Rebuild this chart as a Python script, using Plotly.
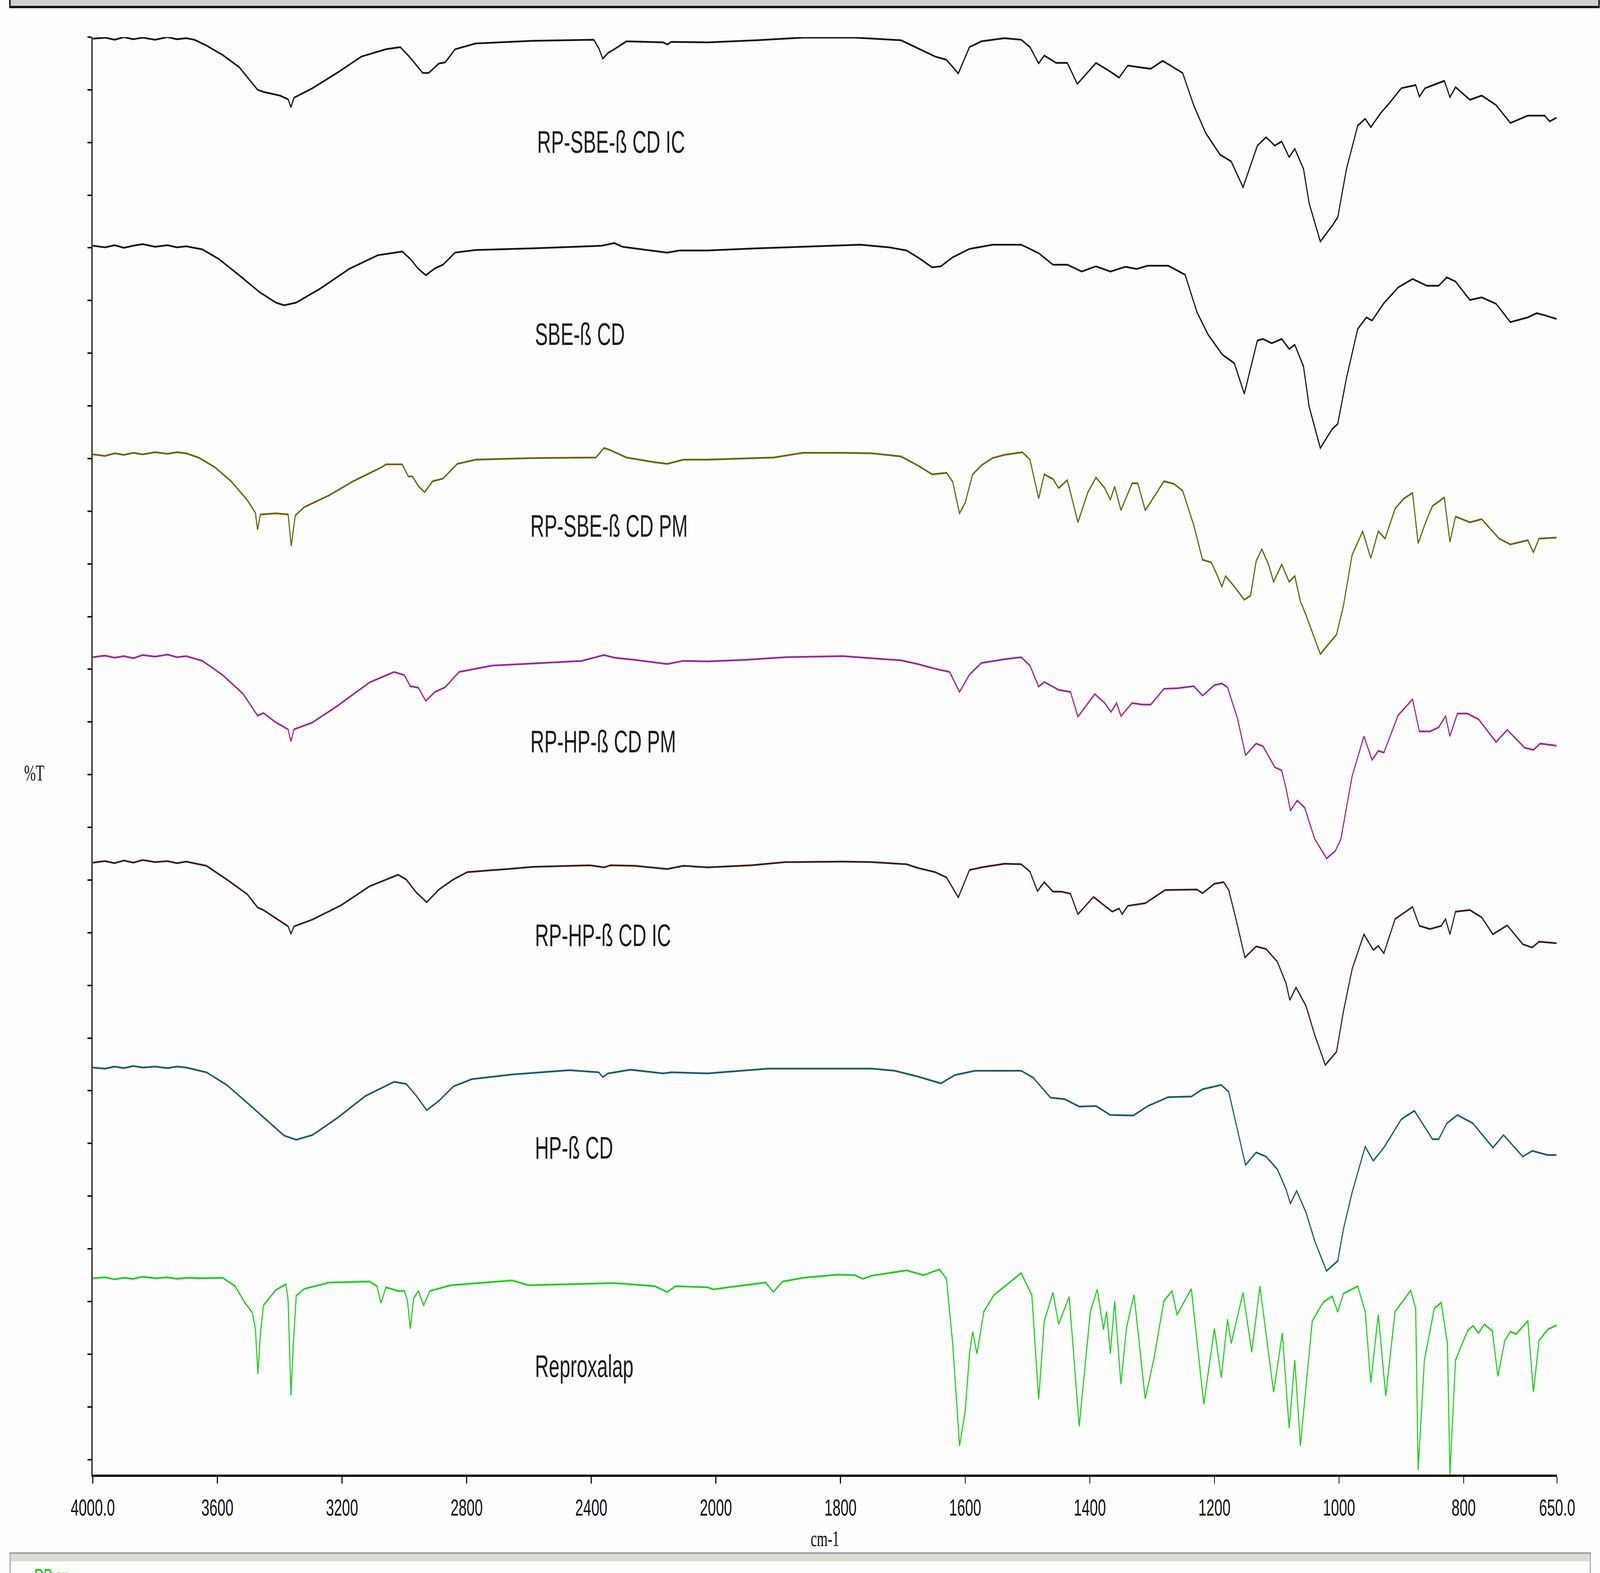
"""
FT-IR overlay: Reproxalap, HP-/SBE-beta-CD, physical mixtures (PM) and
inclusion complexes (IC), stacked %T traces on a split wavenumber axis.
"""

import plotly.graph_objects as go

# ── Data (wavenumber cm-1, offset %T in tick units) ───────────────────────────

WN_RP_SBE_IC = [4000, 3960, 3930, 3900, 3870, 3840, 3800, 3760, 3730, 3700, 3674, 3635, 3583, 3530, 3471,
                3452, 3399, 3373, 3364, 3354, 3295, 3216, 3138, 3059, 3013, 2981, 2941, 2922, 2889, 2869,
                2837, 2771, 2588, 2392, 2376, 2363, 2346, 2326, 2287, 2169, 2156, 2143, 2027, 1934, 1860,
                1777, 1703, 1676, 1648, 1630, 1611, 1593, 1574, 1537, 1510, 1496, 1482, 1473, 1454, 1436,
                1420, 1390, 1369, 1353, 1339, 1316, 1302, 1283, 1251, 1233, 1214, 1191, 1173, 1154, 1131,
                1117, 1103, 1092, 1080, 1071, 1057, 1048, 1030, 1011, 1002, 988, 970, 958, 949, 933, 919,
                900, 877, 871, 862, 831, 822, 813, 790, 771, 748, 725, 697, 670, 662, 651]
T_RP_SBE_IC = [26.97, 26.99, 26.95, 27.00, 26.96, 26.99, 26.95, 27.00, 26.96, 26.98, 26.95, 26.84, 26.66,
               26.43, 26.00, 25.96, 25.89, 25.82, 25.67, 25.85, 26.03, 26.32, 26.63, 26.77, 26.81, 26.61,
               26.32, 26.32, 26.50, 26.52, 26.77, 26.88, 26.93, 26.95, 26.79, 26.59, 26.70, 26.77, 26.92,
               26.90, 26.86, 26.91, 26.90, 26.94, 26.99, 26.99, 26.94, 26.79, 26.63, 26.57, 26.31, 26.81,
               26.92, 26.98, 26.95, 26.81, 26.50, 26.65, 26.51, 26.51, 26.11, 26.51, 26.36, 26.23, 26.46,
               26.42, 26.40, 26.55, 26.32, 25.70, 25.18, 24.77, 24.64, 24.15, 24.94, 25.10, 24.94, 25.02,
               24.72, 24.88, 24.50, 23.85, 23.12, 23.42, 23.58, 24.50, 25.32, 25.45, 25.29, 25.56, 25.75,
               26.03, 26.09, 25.87, 26.03, 26.17, 25.86, 26.05, 25.81, 25.89, 25.71, 25.37, 25.51, 25.51,
               25.40, 25.47]

WN_SBE = [4000, 3960, 3930, 3900, 3870, 3840, 3800, 3760, 3730, 3700, 3648, 3596, 3530, 3465, 3412, 3386,
          3347, 3269, 3177, 3085, 3007, 2981, 2955, 2931, 2902, 2876, 2837, 2771, 2588, 2366, 2326, 2300,
          2222, 2156, 2117, 2027, 1934, 1842, 1768, 1722, 1694, 1676, 1653, 1639, 1620, 1593, 1556, 1510,
          1482, 1459, 1436, 1413, 1390, 1367, 1343, 1325, 1307, 1274, 1247, 1228, 1210, 1187, 1168, 1152,
          1131, 1122, 1108, 1092, 1080, 1071, 1057, 1048, 1030, 1011, 1002, 988, 970, 956, 947, 928, 905,
          882, 859, 840, 827, 813, 790, 771, 748, 725, 697, 683, 670, 651]
T_SBE = [23.04, 23.01, 23.05, 23.00, 23.04, 23.07, 23.02, 23.05, 23.01, 23.03, 22.97, 22.79, 22.48, 22.16,
         21.96, 21.91, 21.96, 22.23, 22.60, 22.86, 22.93, 22.79, 22.60, 22.48, 22.61, 22.68, 22.91, 22.96,
         22.99, 23.04, 23.09, 23.02, 22.96, 22.91, 22.95, 22.95, 22.99, 23.03, 23.06, 23.01, 22.95, 22.82,
         22.63, 22.65, 22.82, 22.98, 23.06, 23.06, 22.90, 22.68, 22.68, 22.55, 22.65, 22.55, 22.64, 22.60,
         22.66, 22.66, 22.49, 21.78, 21.35, 20.97, 20.81, 20.23, 21.24, 21.27, 21.19, 21.27, 21.08, 21.16,
         20.75, 19.99, 19.20, 19.56, 19.66, 20.53, 21.46, 21.68, 21.62, 21.95, 22.25, 22.41, 22.28, 22.28,
         22.44, 22.36, 22.01, 22.06, 21.94, 21.59, 21.68, 21.76, 21.72, 21.65]

WN_RP_SBE_PM = [4000, 3960, 3930, 3900, 3870, 3840, 3800, 3760, 3730, 3700, 3661, 3609, 3556, 3504, 3478,
                3471, 3462, 3412, 3373, 3363, 3350, 3321, 3242, 3164, 3085, 3072, 3059, 3007, 2987, 2974,
                2955, 2935, 2909, 2876, 2830, 2771, 2588, 2385, 2359, 2339, 2287, 2196, 2156, 2104, 2027,
                1962, 1907, 1860, 1796, 1750, 1703, 1676, 1653, 1630, 1620, 1609, 1600, 1588, 1574, 1556,
                1537, 1508, 1496, 1482, 1473, 1459, 1450, 1436, 1419, 1403, 1390, 1376, 1367, 1360, 1350,
                1332, 1323, 1311, 1297, 1281, 1265, 1251, 1233, 1219, 1205, 1196, 1188, 1182, 1168, 1152,
                1142, 1133, 1124, 1113, 1105, 1092, 1080, 1071, 1062, 1053, 1030, 1016, 1004, 993, 979, 962,
                949, 937, 926, 910, 896, 882, 873, 861, 850, 831, 822, 813, 790, 771, 743, 725, 697, 688,
                679, 651]
T_RP_SBE_PM = [19.08, 19.05, 19.10, 19.07, 19.11, 19.08, 19.12, 19.09, 19.12, 19.10, 19.02, 18.84, 18.57,
               18.21, 17.97, 17.65, 17.94, 17.96, 17.94, 17.34, 17.92, 18.08, 18.30, 18.57, 18.80, 18.84,
               18.89, 18.89, 18.66, 18.66, 18.48, 18.36, 18.57, 18.62, 18.90, 18.98, 19.01, 19.02, 19.20,
               19.16, 19.02, 18.93, 18.90, 18.98, 18.98, 19.00, 19.02, 19.11, 19.11, 19.10, 19.04, 18.87,
               18.70, 18.73, 18.56, 17.96, 18.16, 18.70, 18.87, 19.01, 19.07, 19.12, 18.98, 18.24, 18.70,
               18.61, 18.44, 18.59, 17.79, 18.36, 18.64, 18.44, 18.22, 18.47, 18.02, 18.53, 18.53, 18.02,
               18.27, 18.57, 18.52, 18.39, 17.73, 17.08, 17.03, 16.80, 16.57, 16.77, 16.57, 16.32, 16.40,
               17.05, 17.28, 16.99, 16.66, 16.99, 16.66, 16.77, 16.29, 16.03, 15.29, 15.49, 15.66, 16.20,
               17.17, 17.62, 17.11, 17.62, 17.48, 18.05, 18.24, 18.35, 17.39, 17.79, 18.10, 18.26, 17.42,
               17.90, 17.79, 17.85, 17.48, 17.37, 17.45, 17.22, 17.48, 17.50]

WN_RP_HP_PM = [4000, 3960, 3930, 3900, 3870, 3840, 3800, 3760, 3730, 3700, 3648, 3583, 3517, 3471, 3452,
               3412, 3373, 3364, 3354, 3295, 3216, 3112, 3033, 3000, 2981, 2955, 2931, 2902, 2869, 2824,
               2719, 2588, 2431, 2359, 2326, 2261, 2156, 2104, 2027, 1953, 1888, 1796, 1750, 1703, 1676,
               1648, 1625, 1609, 1593, 1574, 1537, 1510, 1496, 1482, 1473, 1450, 1431, 1419, 1392, 1376,
               1366, 1357, 1350, 1332, 1316, 1302, 1281, 1260, 1233, 1219, 1200, 1188, 1179, 1163, 1150,
               1133, 1122, 1103, 1092, 1085, 1078, 1067, 1055, 1039, 1020, 1006, 997, 979, 960, 947, 937,
               928, 905, 882, 871, 854, 840, 829, 822, 810, 794, 776, 748, 730, 702, 688, 677, 651]
T_RP_HP_PM = [15.23, 15.26, 15.22, 15.25, 15.21, 15.27, 15.24, 15.28, 15.23, 15.25, 15.16, 14.89, 14.53,
              14.12, 14.17, 13.99, 13.86, 13.63, 13.86, 13.99, 14.30, 14.75, 14.95, 14.89, 14.68, 14.65,
              14.40, 14.57, 14.66, 14.95, 15.07, 15.11, 15.16, 15.27, 15.22, 15.18, 15.10, 15.16, 15.15,
              15.18, 15.23, 15.25, 15.21, 15.17, 15.10, 15.01, 14.95, 14.57, 14.90, 15.12, 15.19, 15.23,
              15.07, 14.67, 14.76, 14.61, 14.57, 14.10, 14.53, 14.36, 14.19, 14.36, 14.11, 14.36, 14.33,
              14.33, 14.63, 14.64, 14.68, 14.50, 14.70, 14.73, 14.66, 14.07, 13.37, 13.59, 13.54, 13.14,
              13.08, 12.74, 12.32, 12.51, 12.37, 11.78, 11.41, 11.55, 11.78, 12.97, 13.73, 13.28, 13.45,
              13.42, 14.13, 14.43, 13.82, 13.82, 13.90, 14.11, 13.73, 14.16, 14.16, 14.05, 13.62, 13.85,
              13.51, 13.47, 13.59, 13.55]

WN_RP_HP_IC = [4000, 3960, 3930, 3900, 3870, 3840, 3800, 3760, 3730, 3700, 3635, 3570, 3504, 3471, 3452,
               3399, 3373, 3364, 3354, 3295, 3203, 3112, 3020, 2994, 2961, 2928, 2889, 2843, 2798, 2667,
               2588, 2405, 2359, 2339, 2261, 2156, 2104, 2027, 1944, 1888, 1796, 1750, 1694, 1676, 1648,
               1630, 1611, 1593, 1574, 1537, 1510, 1496, 1484, 1473, 1459, 1445, 1431, 1419, 1394, 1376,
               1364, 1353, 1348, 1339, 1311, 1279, 1228, 1219, 1200, 1185, 1177, 1166, 1151, 1133, 1117,
               1099, 1085, 1079, 1069, 1053, 1039, 1022, 1004, 993, 979, 960, 945, 937, 928, 910, 882, 871,
               854, 836, 829, 822, 813, 790, 771, 753, 730, 705, 690, 679, 651]
T_RP_HP_IC = [11.33, 11.36, 11.32, 11.37, 11.33, 11.38, 11.34, 11.36, 11.32, 11.35, 11.27, 11.01, 10.73,
              10.48, 10.43, 10.22, 10.12, 9.98, 10.12, 10.25, 10.52, 10.88, 11.10, 11.01, 10.76, 10.58,
              10.82, 11.01, 11.15, 11.21, 11.25, 11.28, 11.24, 11.28, 11.27, 11.21, 11.27, 11.24, 11.28,
              11.34, 11.35, 11.34, 11.30, 11.23, 11.15, 11.05, 10.67, 11.19, 11.24, 11.31, 11.30, 11.16,
              10.79, 10.96, 10.78, 10.78, 10.74, 10.35, 10.68, 10.51, 10.40, 10.46, 10.35, 10.51, 10.56,
              10.81, 10.82, 10.75, 10.93, 10.96, 10.81, 10.29, 9.53, 9.74, 9.69, 9.45, 9.04, 8.72, 8.96,
              8.61, 8.06, 7.49, 7.74, 8.50, 9.31, 9.97, 9.67, 9.75, 9.61, 10.26, 10.49, 10.13, 10.07, 10.13,
              10.26, 9.97, 10.40, 10.43, 10.29, 9.97, 10.14, 9.78, 9.72, 9.83, 9.80]

WN_HP = [4000, 3960, 3930, 3900, 3870, 3840, 3800, 3760, 3730, 3700, 3635, 3570, 3504, 3439, 3386, 3347,
         3295, 3216, 3125, 3033, 2994, 2961, 2928, 2889, 2843, 2784, 2654, 2470, 2376, 2363, 2346, 2274,
         2169, 2143, 2027, 1916, 1842, 1750, 1713, 1676, 1639, 1616, 1584, 1510, 1491, 1463, 1440, 1417,
         1390, 1367, 1330, 1307, 1274, 1237, 1219, 1189, 1177, 1163, 1150, 1133, 1117, 1099, 1085, 1078,
         1068, 1053, 1039, 1020, 1002, 993, 979, 958, 945, 928, 900, 879, 850, 840, 827, 810, 785, 753,
         736, 705, 690, 665, 651]
T_HP = [7.44, 7.42, 7.46, 7.43, 7.47, 7.44, 7.46, 7.43, 7.46, 7.44, 7.35, 7.11, 6.77, 6.43, 6.15, 6.07,
        6.16, 6.48, 6.90, 7.17, 7.13, 6.90, 6.63, 6.81, 7.08, 7.22, 7.31, 7.39, 7.35, 7.26, 7.33, 7.40,
        7.33, 7.35, 7.33, 7.42, 7.42, 7.42, 7.38, 7.27, 7.14, 7.30, 7.38, 7.38, 7.25, 6.87, 6.84, 6.70,
        6.71, 6.54, 6.53, 6.71, 6.88, 6.89, 7.03, 7.11, 6.98, 6.27, 5.59, 5.83, 5.75, 5.51, 5.13, 4.86,
        5.10, 4.69, 4.15, 3.58, 3.77, 4.37, 5.07, 5.94, 5.67, 5.92, 6.46, 6.62, 6.08, 6.08, 6.38, 6.54,
        6.38, 5.92, 6.16, 5.75, 5.86, 5.78, 5.78]

WN_RP = [4000, 3960, 3930, 3900, 3870, 3840, 3800, 3760, 3730, 3700, 3650, 3583, 3543, 3511, 3488, 3478,
         3470, 3462, 3452, 3412, 3380, 3373, 3364, 3356, 3347, 3321, 3242, 3112, 3088, 3075, 3059, 3020,
         3000, 2990, 2981, 2970, 2955, 2938, 2918, 2850, 2654, 2601, 2326, 2196, 2156, 2130, 2027, 2008,
         1980, 1934, 1920, 1908, 1893, 1860, 1805, 1777, 1764, 1750, 1722, 1694, 1667, 1641, 1630, 1620,
         1609, 1600, 1593, 1588, 1581, 1570, 1554, 1510, 1493, 1482, 1473, 1459, 1450, 1433, 1417, 1399,
         1388, 1378, 1373, 1367, 1360, 1350, 1341, 1329, 1311, 1297, 1281, 1268, 1260, 1237, 1217, 1200,
         1189, 1179, 1173, 1154, 1140, 1127, 1105, 1091, 1080, 1071, 1062, 1043, 1025, 1011, 1002, 993,
         970, 958, 949, 937, 925, 910, 885, 877, 873, 863, 847, 836, 826, 822, 813, 794, 785, 776, 767,
         754, 745, 734, 725, 716, 697, 688, 679, 665, 651]
T_RP = [3.44, 3.46, 3.42, 3.45, 3.43, 3.47, 3.44, 3.46, 3.43, 3.45, 3.44, 3.45, 3.29, 2.97, 2.79, 2.48,
        1.63, 2.39, 2.93, 3.22, 3.33, 3.02, 1.22, 2.21, 3.11, 3.24, 3.36, 3.38, 3.29, 2.97, 3.27, 3.20,
        3.20, 3.02, 2.48, 3.06, 3.20, 2.93, 3.20, 3.31, 3.40, 3.31, 3.35, 3.29, 3.18, 3.29, 3.27, 3.23,
        3.27, 3.34, 3.36, 3.18, 3.38, 3.45, 3.51, 3.50, 3.43, 3.49, 3.54, 3.59, 3.50, 3.61, 3.43, 2.20,
        0.26, 0.91, 2.01, 2.43, 2.01, 2.81, 3.12, 3.54, 3.12, 1.14, 2.63, 3.17, 2.57, 3.09, 0.63, 2.81,
        3.23, 2.47, 2.81, 2.01, 3.01, 1.43, 2.51, 3.13, 1.15, 1.92, 3.01, 3.20, 2.75, 3.24, 1.05, 2.49,
        1.55, 2.66, 2.20, 3.17, 2.04, 3.29, 1.28, 2.40, 0.60, 1.89, 0.26, 2.63, 2.99, 3.10, 2.80, 3.15,
        3.29, 2.81, 1.46, 2.75, 1.21, 2.81, 3.21, 2.87, -0.20, 1.89, 2.87, 2.98, 2.20, -0.28, 1.89, 2.44,
        2.54, 2.40, 2.57, 2.44, 1.58, 2.26, 2.43, 2.38, 2.63, 1.28, 2.26, 2.47, 2.55]

SAMPLE_NAMES = ["RP-SBE-ß CD IC", "SBE-ß CD", "RP-SBE-ß CD PM", "RP-HP-ß CD PM",
                "RP-HP-ß CD IC", "HP-ß CD", "Reproxalap"]

TICK_WN = [4000, 3600, 3200, 2800, 2400, 2000, 1800, 1600, 1400, 1200, 1000, 800, 650]
TICK_TEXT = ["4000.0", "3600", "3200", "2800", "2400", "2000", "1800", "1600",
             "1400", "1200", "1000", "800", "650.0"]
Y_TICKS = list(range(0, 28))

# ── Styling ────────────────────────────────────────────────────────────────────
COLOURS = ["#141414", "#141414", "#66660e", "#992a99", "#3e1c1c", "#1e5a68", "#1fcf1f"]
LABEL_POS = [(2575, 25.01), (2582, 21.36), (2597, 17.72), (2597, 13.63),
             (2582, 9.95), (2582, 5.92), (2582, 1.77)]

W, H = 6640, 4027
M_L, M_R, M_T, M_B = 385, 178, 95, 252

# the browser may give a smaller CSS viewport than the 6640x4027 page asked
# for: stretch the fixed-size figure onto whatever viewport there is
FIT_JS = """
(function () {
  var gd = document.getElementById('{plot_id}');
  document.documentElement.style.overflow = 'hidden';
  document.body.style.margin = '0';
  document.body.style.overflow = 'hidden';
  var vw = document.documentElement.clientWidth, vh = window.innerHeight;
  var sx = vw / %d, sy = vh / %d;
  if (!(sx > 0 && sy > 0)) { return; }
  if (Math.abs(sx - 1) < 0.002 && Math.abs(sy - 1) < 0.002) { return; }
  var wrap = gd.parentElement;
  wrap.style.width = vw + 'px';
  wrap.style.height = vh + 'px';
  wrap.style.overflow = 'hidden';
  gd.style.transformOrigin = '0 0';
  gd.style.transform = 'scale(' + sx + ',' + sy + ')';
})();
""" % (W, H)


def wn_to_axis(w):
    """Spectrum-style split scale: 4000-2000 at 1x, below 2000 at 2x."""
    return 4000 - w if w >= 2000 else 2000 + 2 * (2000 - w)


def px(x):
    return (x - M_L) / (W - M_L - M_R)


def py(y):
    return (H - M_B - y) / (H - M_T - M_B)


series = [
    (WN_RP_SBE_IC, T_RP_SBE_IC), (WN_SBE, T_SBE), (WN_RP_SBE_PM, T_RP_SBE_PM),
    (WN_RP_HP_PM, T_RP_HP_PM), (WN_RP_HP_IC, T_RP_HP_IC), (WN_HP, T_HP), (WN_RP, T_RP),
]

fig = go.Figure()
for (wn, t), name, colour in zip(series, SAMPLE_NAMES, COLOURS):
    fig.add_trace(go.Scatter(
        x=[wn_to_axis(w) for w in wn], y=t, name=name, mode="lines",
        line=dict(color=colour, width=4.5), showlegend=False,
    ))

annotations = []
for name, (lw, ly) in zip(SAMPLE_NAMES, LABEL_POS):
    annotations.append(dict(
        x=wn_to_axis(lw), y=ly, xref="x", yref="y", text=name, showarrow=False,
        xanchor="left", yanchor="middle",
        font=dict(family="Liberation Sans, Arial, sans-serif", size=80, color="#1b1b1b"),
    ))
annotations += [
    dict(x=0.5, y=py(3939), xref="paper", yref="paper", text="cm-1", showarrow=False,
         xanchor="center", yanchor="middle",
         font=dict(family="Liberation Serif, Times New Roman, serif", size=58, color="#111")),
    dict(x=px(142), y=py(1978), xref="paper", yref="paper", text="%T", showarrow=False,
         xanchor="center", yanchor="middle",
         font=dict(family="Liberation Serif, Times New Roman, serif", size=58, color="#111")),
    dict(x=px(140), y=py(4003), xref="paper", yref="paper", text="RP sp", showarrow=False,
         xanchor="left", yanchor="top",
         font=dict(family="Liberation Sans, Arial, sans-serif", size=54, color="#00c800")),
]

shapes = [
    # toolbar strip at the top of the window
    dict(type="rect", xref="paper", yref="paper", x0=px(41), x1=px(6636), y0=py(-30), y1=py(18),
         fillcolor="#cfcfcf", line=dict(color="#111", width=6), layer="above"),
    # sample list panel at the bottom
    dict(type="rect", xref="paper", yref="paper", x0=px(42), x1=px(6600), y0=py(4080), y1=py(3976),
         fillcolor="#fdfdfd", line=dict(color="#9c9c9c", width=4), layer="above"),
    dict(type="rect", xref="paper", yref="paper", x0=px(44), x1=px(6598), y0=py(3997), y1=py(3978),
         fillcolor="#dddbd6", line=dict(width=0), layer="above"),
]

fig.update_layout(
    width=W, height=H,
    margin=dict(l=M_L, r=M_R, t=M_T, b=M_B, pad=0),
    paper_bgcolor="#fdfdfd", plot_bgcolor="#fdfdfd",
    showlegend=False,
    annotations=annotations,
    shapes=shapes,
    xaxis=dict(
        range=[0, wn_to_axis(650)],
        tickvals=[wn_to_axis(w) for w in TICK_WN], ticktext=TICK_TEXT,
        ticks="outside", ticklen=17, tickwidth=4, tickcolor="#111",
        showline=True, linecolor="#111", linewidth=6,
        showgrid=False, zeroline=False, ticklabelstandoff=10,
        tickfont=dict(family="Liberation Sans Narrow, Arial Narrow, Liberation Sans, sans-serif",
                      size=60, color="#111"),
    ),
    yaxis=dict(
        range=[-0.285, 27],
        tickvals=Y_TICKS, showticklabels=False,
        ticks="outside", ticklen=16, tickwidth=4, tickcolor="#111",
        showline=True, linecolor="#111", linewidth=6,
        showgrid=False, zeroline=False,
    ),
)

fig.write_html("out.html", post_script=FIT_JS, config={"displayModeBar": False})
